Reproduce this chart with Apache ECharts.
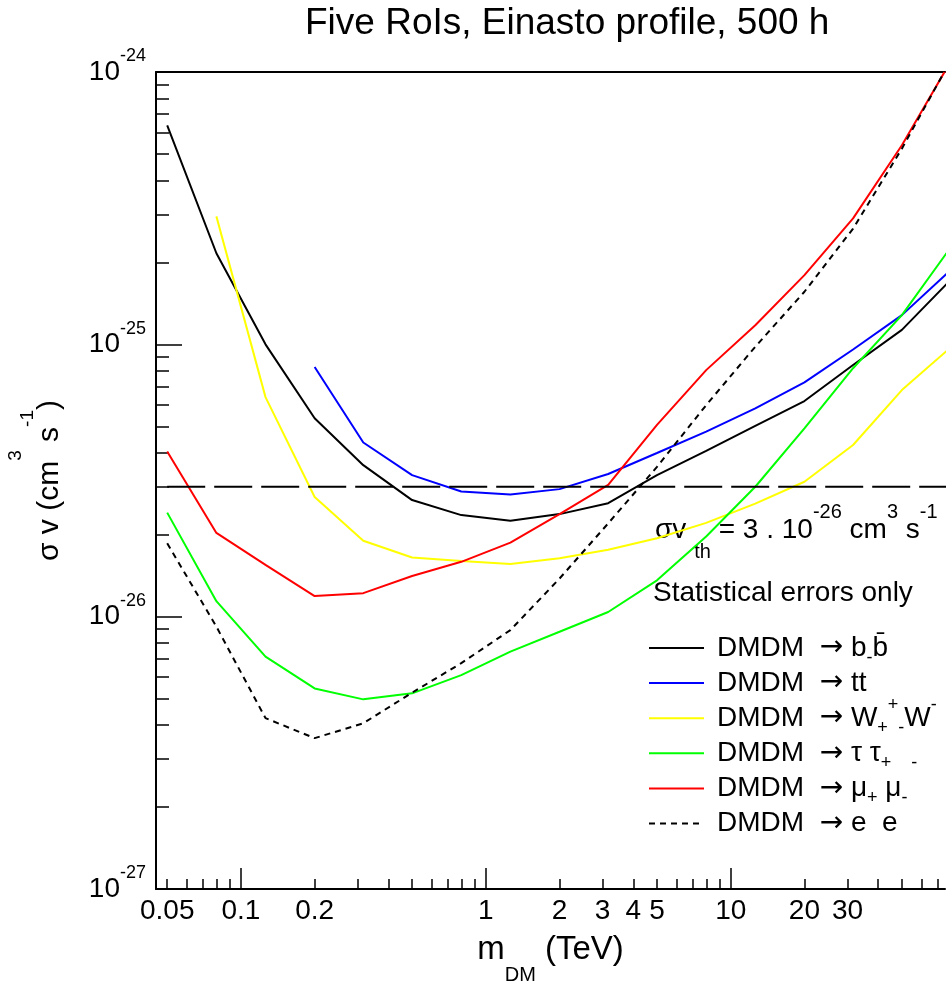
<!DOCTYPE html>
<html><head><meta charset="utf-8">
<script src="https://cdn.jsdelivr.net/npm/echarts@6/dist/echarts.min.js"></script>
<style>html,body{margin:0;padding:0;background:#fff}#c{width:946px;height:983px}</style>
</head><body><div id="c"></div>
<script>
// ---------- data ----------
// masses in TeV, sigma v in cm^3 s^-1
const massTeV = [0.05, 0.0794, 0.126, 0.2, 0.316, 0.5, 0.794, 1.26, 2, 3.16, 5, 7.94, 12.6, 20, 31.6, 50, 79.4];
const sigmaV_bb = [6.37e-25, 2.16e-25, 1.0e-25, 5.35e-26, 3.6e-26, 2.68e-26, 2.36e-26, 2.25e-26, 2.38e-26, 2.61e-26, 3.31e-26, 4.06e-26, 5.02e-26, 6.19e-26, 8.4e-26, 1.13e-25, 1.73e-25];
const sigmaV_tt = [null, null, null, 8.26e-26, 4.36e-26, 3.31e-26, 2.88e-26, 2.81e-26, 2.94e-26, 3.34e-26, 3.99e-26, 4.78e-26, 5.82e-26, 7.25e-26, 9.57e-26, 1.28e-25, 1.88e-25];
const sigmaV_WW = [null, 2.95e-25, 6.4e-26, 2.75e-26, 1.90e-26, 1.65e-26, 1.60e-26, 1.56e-26, 1.64e-26, 1.76e-26, 1.94e-26, 2.21e-26, 2.6e-26, 3.13e-26, 4.27e-26, 6.79e-26, 9.77e-26];
const sigmaV_tautau = [2.41e-26, 1.14e-26, 7.13e-27, 5.45e-27, 4.97e-27, 5.23e-27, 6.1e-27, 7.44e-27, 8.8e-27, 1.04e-26, 1.36e-26, 1.97e-26, 3.0e-26, 4.91e-26, 8.17e-26, 1.28e-25, 2.28e-25];
const sigmaV_mumu = [4.04e-26, 2.03e-26, 1.55e-26, 1.19e-26, 1.22e-26, 1.41e-26, 1.59e-26, 1.87e-26, 2.38e-26, 3.05e-26, 5.06e-26, 8.04e-26, 1.175e-25, 1.795e-25, 2.9e-25, 5.38e-25, 1.1e-24];
const sigmaV_ee = [1.86e-26, 9.19e-27, 4.24e-27, 3.58e-27, 4.06e-27, 5.26e-27, 6.75e-27, 8.93e-27, 1.38e-26, 2.2e-26, 3.55e-26, 5.98e-26, 9.8e-26, 1.56e-25, 2.66e-25, 5.23e-25, 1.11e-24];
const sigmaVth = 3e-26;

const xTickLabels = [0.05, 0.1, 0.2, 1, 2, 3, 4, 5, 10, 20, 30];
const xMajorTicks = [0.1, 1, 10];
const xMinorTicks = [0.05, 0.06, 0.07, 0.08, 0.09, 0.2, 0.3, 0.4, 0.5, 0.6, 0.7, 0.8, 0.9, 2, 3, 4, 5, 6, 7, 8, 9, 20, 30, 40, 50, 60, 70];
const yTickLabels = [1e-27, 1e-26, 1e-25, 1e-24];
const yMajorTicks = [1e-27, 1e-26, 1e-25, 1e-24];
const yMinorTicks = [2e-27, 3e-27, 4e-27, 5e-27, 6e-27, 7e-27, 8e-27, 9e-27,
                     2e-26, 3e-26, 4e-26, 5e-26, 6e-26, 7e-26, 8e-26, 9e-26,
                     2e-25, 3e-25, 4e-25, 5e-25, 6e-25, 7e-25, 8e-25, 9e-25];

const channelNames = ['bb', 'tt', 'WW', 'tautau', 'mumu', 'ee'];
const channelValues = [sigmaV_bb, sigmaV_tt, sigmaV_WW, sigmaV_tautau, sigmaV_mumu, sigmaV_ee];
const channelColors = ['#000000', '#0000ff', '#ffff00', '#00ff00', '#ff0000', '#000000'];
const channelLabels = {
  bb: '{t|DMDM  }{ar|\u2192}{t| b}{sub|-}{t|b\u0304}',
  tt: '{t|DMDM  }{ar|\u2192}{t| tt}',
  WW: '{t|DMDM  }{ar|\u2192}{t| W}{sub|+}{sup|+}{sub|-}{t|W}{sup|-}',
  tautau: '{t|DMDM  }{ar|\u2192}{t| \u03c4 \u03c4}{sub|+    -}',
  mumu: '{t|DMDM  }{ar|\u2192}{t| \u03bc}{sub|+}{t| \u03bc}{sub|-}',
  ee: '{t|DMDM  }{ar|\u2192}{t| e  e}'
};

// ---------- chart ----------
const FONT = 'Liberation Sans';
const Y_UNIT = 1e-26;              // plotting unit for the log scale (labels shown as powers of ten)
const X_MIN = 0.045, X_MAX = 75, Y_MIN = 1e-27, Y_MAX = 1e-24;
const toY = v => (v == null ? null : Number((v / Y_UNIT).toPrecision(12)));

function fmtMass(v) { return String(parseFloat(Number(v).toPrecision(3))); }
function fmtPow(v) { return '{b|10}{s|' + Math.round(Math.log10(v * Y_UNIT)) + '}'; }

const series = channelNames.map((n, k) => ({
  type: 'line', name: n, xAxisIndex: 0, yAxisIndex: 0,
  symbol: 'none', smooth: false, clip: true,
  data: massTeV.map((m, i) => [m, toY(channelValues[k][i])]).filter(p => p[1] != null),
  lineStyle: { color: channelColors[k], width: 2, type: n === 'ee' ? [6, 5] : 'solid' },
  itemStyle: { color: channelColors[k] }
}));
series.push({
  type: 'line', name: 'thermal', xAxisIndex: 0, yAxisIndex: 0, symbol: 'none', clip: true,
  data: [[massTeV[0], toY(sigmaVth)], [massTeV[massTeV.length - 1], toY(sigmaVth)]],
  lineStyle: { color: '#000', width: 2, type: [38, 9] }, itemStyle: { color: '#000' }
});

const baseAxis = { splitLine: { show: false }, minorTick: { show: false }, nameMoveOverlap: false };
const option = {
  animation: false,
  backgroundColor: '#fff',
  textStyle: { fontFamily: FONT, color: '#000' },
  title: {
    text: 'Five RoIs, Einasto profile, 500 h', left: 300, top: 0,
    textStyle: { fontFamily: FONT, fontSize: 37, fontWeight: 'normal', color: '#000' }
  },
  grid: { left: 156, right: 1, top: 72, bottom: 94, containLabel: false, outerBoundsMode: 'none' },
  xAxis: [
    Object.assign({}, baseAxis, {
      type: 'log', position: 'bottom', min: X_MIN, max: X_MAX,
      axisLine: { show: true, onZero: false, lineStyle: { color: '#000', width: 2 } },
      axisTick: { show: true, inside: true, length: 10, customValues: xMinorTicks, lineStyle: { color: '#000', width: 1.5 } },
      axisLabel: { show: true, customValues: xTickLabels, formatter: fmtMass, margin: 8,
        fontFamily: FONT, fontSize: 28, color: '#000' },
      name: '{m|m}{d|DM}{t| (TeV)}', nameLocation: 'middle', nameGap: 26,
      nameTextStyle: { fontFamily: FONT, color: '#000', lineHeight: 70,
        rich: { m: { fontSize: 33, lineHeight: 70, fontFamily: FONT },
                d: { fontSize: 20, lineHeight: 20, verticalAlign: 'bottom', fontFamily: FONT },
                t: { fontSize: 33, lineHeight: 70, fontFamily: FONT } } }
    }),
    Object.assign({}, baseAxis, {
      type: 'log', position: 'bottom', min: X_MIN, max: X_MAX,
      axisLine: { show: false, onZero: false },
      axisTick: { show: true, inside: true, length: 21, customValues: xMajorTicks, lineStyle: { color: '#000', width: 1.5 } },
      axisLabel: { show: false }
    }),
    Object.assign({}, baseAxis, {
      type: 'log', position: 'top', min: X_MIN, max: X_MAX,
      axisLine: { show: true, onZero: false, lineStyle: { color: '#000', width: 2 } },
      axisTick: { show: false }, axisLabel: { show: false }
    })
  ],
  yAxis: [
    Object.assign({}, baseAxis, {
      type: 'log', position: 'left', min: toY(Y_MIN), max: toY(Y_MAX),
      axisLine: { show: true, onZero: false, lineStyle: { color: '#000', width: 2 } },
      axisTick: { show: true, inside: true, length: 13, customValues: yMinorTicks.map(toY), lineStyle: { color: '#000', width: 1.5 } },
      axisLabel: { show: true, customValues: yTickLabels.map(toY), formatter: fmtPow, margin: 10,
        fontFamily: FONT, color: '#000',
        rich: { b: { fontSize: 28, lineHeight: 49, fontFamily: FONT, color: '#000' },
                s: { fontSize: 18, lineHeight: 18, verticalAlign: 'top', fontFamily: FONT, color: '#000' } } },
      name: '{t|\u03c3 v (cm}{s3|3}{t| s}{s1|-1}{t|)}', nameLocation: 'middle', nameGap: 62,
      nameTextStyle: { fontFamily: FONT, color: '#000', lineHeight: 88,
        rich: { t: { fontSize: 30, lineHeight: 88, fontFamily: FONT },
                s3: { fontSize: 19, verticalAlign: 'top', fontFamily: FONT },
                s1: { fontSize: 19, verticalAlign: 'top', padding: [12, 0, 0, 0], fontFamily: FONT } } }
    }),
    Object.assign({}, baseAxis, {
      type: 'log', position: 'left', min: toY(Y_MIN), max: toY(Y_MAX),
      axisLine: { show: false, onZero: false },
      axisTick: { show: true, inside: true, length: 26, customValues: yMajorTicks.map(toY), lineStyle: { color: '#000', width: 1.5 } },
      axisLabel: { show: false }
    })
  ],
  legend: {
    data: channelNames, orient: 'vertical', left: 643, top: 629,
    itemWidth: 55, itemHeight: 14, itemGap: -0.9, selectedMode: false,
    itemStyle: { color: 'rgba(0,0,0,0)', opacity: 0, borderWidth: 0 },
    formatter: n => channelLabels[n],
    textStyle: { fontFamily: FONT, color: '#000', padding: [0, 0, 0, 8],
      rich: { t: { fontSize: 28, lineHeight: 44, fontFamily: FONT, color: '#000' },
              ar: { fontSize: 28, lineHeight: 44, fontFamily: 'DejaVu Sans', color: '#000' },
              sub: { fontSize: 18, lineHeight: 14, verticalAlign: 'bottom', padding: [0, 0, 3, 0], fontFamily: FONT, color: '#000' },
              sup: { fontSize: 18, lineHeight: 14, verticalAlign: 'top', fontFamily: FONT, color: '#000' } } }
  },
  graphic: [
    { type: 'text', left: 653, top: 579, silent: true,
      style: { text: 'Statistical errors only', fontFamily: FONT, fontSize: 28, fill: '#000' } },
    { type: 'text', x: 655, y: 530, silent: true,
      style: { text: '{t|\u03c3v}{sub|th}{t| = 3 . 10}{sup|-26}{t| cm}{sup|3}{t| s}{sup|-1}',
        x: 0, y: 0, align: 'left', verticalAlign: 'middle', textAlign: 'left', textVerticalAlign: 'middle',
        fontFamily: FONT, fontSize: 28, fill: '#000',
        rich: { t: { fontSize: 28, lineHeight: 64, fontFamily: FONT, fill: '#000' },
                sub: { fontSize: 20, lineHeight: 20, verticalAlign: 'bottom', padding: [0, 0, 0, 8], fontFamily: FONT, fill: '#000' },
                sup: { fontSize: 20, lineHeight: 28, verticalAlign: 'top', padding: [4, 0, 0, 0], fontFamily: FONT, fill: '#000' } } } }
  ],
  series: series
};

const chart = echarts.init(document.getElementById('c'), null, { renderer: 'canvas' });
chart.setOption(option);
</script>
</body></html>
